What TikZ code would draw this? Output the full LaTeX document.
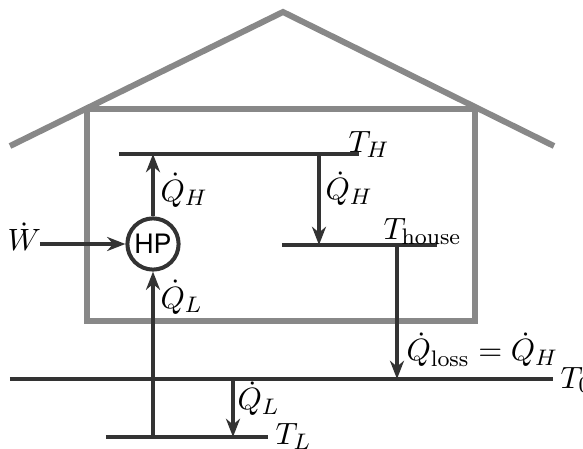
\documentclass[tikz,border=0pt]{standalone}
\usepackage{fontspec}
\newfontfamily\hpfont{TeX Gyre Heros}
\usetikzlibrary{arrows.meta}
\definecolor{dark}{HTML}{333333}
\definecolor{wallgray}{HTML}{888888}

\begin{document}
\begin{tikzpicture}[
  x=0.0125cm, y=-0.0125cm,
  font=\fontsize{10.95}{13}\selectfont,
  lvl/.style={draw=dark, line width=0.05cm},
  arr/.style={-{Stealth[length=6.5pt,width=5pt]}, draw=dark, line width=0.05cm},
  wall/.style={draw=wallgray, line width=0.075cm},
  lbl/.style={anchor=base west, inner sep=0pt}
]
\useasboundingbox (0,0) rectangle (583,449);
% --- house ---
\draw[wall] (10,146) -- (283,12) -- (554,146);
\draw[wall] (87,109) rectangle (475,321);
% --- temperature levels ---
\coordinate (TH-l) at (119,154); \coordinate (TH-r) at (359,154);
\coordinate (Th-l) at (282,245); \coordinate (Th-r) at (437,245);
\coordinate (T0-l) at (10,379);  \coordinate (T0-r) at (553,379);
\coordinate (TL-l) at (106,437); \coordinate (TL-r) at (268,437);
\draw[lvl] (TH-l) -- (TH-r);
\draw[lvl] (Th-l) -- (Th-r);
\draw[lvl] (T0-l) -- (T0-r);
\draw[lvl] (TL-l) -- (TL-r);
\node[lbl] (TH) at (348,153) {$T_H$};
\node[lbl] (Th) at (383,239) {$T_\mathrm{house}$};
\node[lbl] (T0) at (560,388) {$T_0$};
\node[lbl] (TL) at (275,445) {$T_L$};
% --- heat pump ---
\node[draw=dark, line width=0.05cm, circle, minimum size=0.64cm, inner sep=0pt,
  font=\hpfont\fontsize{9.5}{11}\selectfont] (HP) at (153,244) {HP};
\node[lbl] (W) at (7,251) {$\dot W$};
\coordinate (W-end) at (40,244);
\draw[arr] (W-end) -- (HP.west);
\draw[arr] (HP.north) -- (HP.north |- TH-l);
\draw[arr] (HP.south |- TL-l) -- (HP.south);
\node[lbl] (QH-up) at (160,201) {$\dot Q_H$};
\node[lbl] (QL-up) at (160,308) {$\dot Q_L$};
% --- heat flows ---
\coordinate (qh-top) at (319,154);
\draw[arr] (qh-top) -- (qh-top |- Th-l);
\node[lbl] (QH-down) at (325,200) {$\dot Q_H$};
\coordinate (loss-top) at (397,245);
\draw[arr] (loss-top) -- (loss-top |- T0-l);
\node[lbl] (Qloss) at (406,361) {$\dot Q_\mathrm{loss} = \dot Q_H$};
\coordinate (ql-top) at (233,379);
\draw[arr] (ql-top) -- (ql-top |- TL-l);
\node[lbl] (QL-down) at (237,410) {$\dot Q_L$};
\end{tikzpicture}
\end{document}
